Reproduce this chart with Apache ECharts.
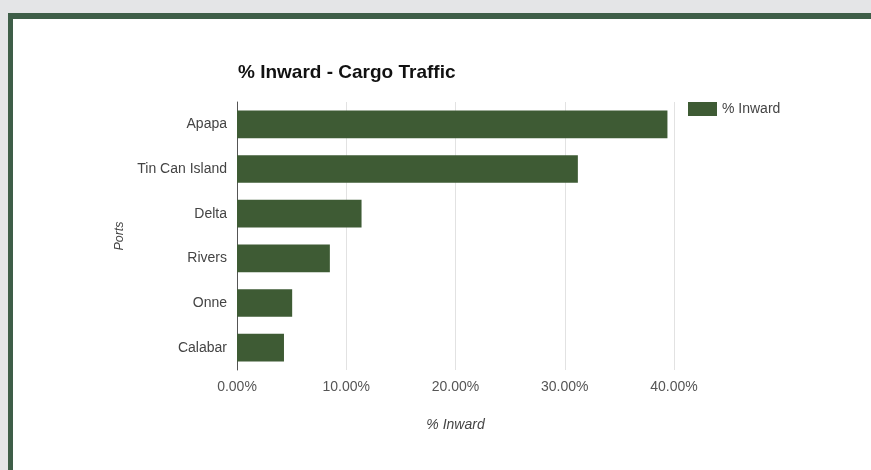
<!DOCTYPE html>
<html>
<head>
<meta charset="utf-8">
<script src="https://cdn.jsdelivr.net/npm/echarts@6/dist/echarts.min.js"></script>
<style>
html,body{margin:0;padding:0;background:#e4e5e7;}
#c{width:871px;height:470px;}
</style>
</head>
<body>
<div id="c"></div>
<script>
const categories = ["Apapa", "Tin Can Island", "Delta", "Rivers", "Onne", "Calabar"];
const inwardPct = [39.4, 31.2, 11.4, 8.5, 5.05, 4.3];
const xTicks = [0, 10, 20, 30, 40];
const seriesName = "% Inward";

const chart = echarts.init(document.getElementById('c'), null, {renderer: 'canvas'});
const font = 'Arial, "Liberation Sans", sans-serif';
chart.setOption({
  backgroundColor: '#e4e5e7',
  animation: false,
  graphic: [
    {type: 'rect', shape: {x: 8, y: 13, width: 900, height: 500}, style: {fill: '#3e5e48'}, z: -10},
    {type: 'rect', shape: {x: 13, y: 19, width: 900, height: 500}, style: {fill: '#ffffff'}, z: -9}
  ],
  title: {
    text: '% Inward - Cargo Traffic',
    left: 233, top: 58,
    textStyle: {fontFamily: font, fontSize: 19, fontWeight: 'bold', color: '#111'}
  },
  legend: {
    data: [seriesName],
    left: 683, top: 97,
    itemWidth: 29, itemHeight: 14,
    icon: 'rect',
    itemGap: 6,
    textStyle: {fontFamily: font, fontSize: 14, color: '#444'}
  },
  grid: {left: 237, right: 197, top: 102, bottom: 100, containLabel: false},
  xAxis: {
    type: 'value',
    min: xTicks[0], max: xTicks[xTicks.length - 1], interval: 10,
    name: seriesName,
    nameLocation: 'middle',
    nameGap: 48,
    nameTextStyle: {fontFamily: font, fontSize: 14, fontStyle: 'italic', color: '#444'},
    axisLine: {show: false},
    axisTick: {show: false},
    splitLine: {lineStyle: {color: '#e2e2e2', width: 1}},
    axisLabel: {
      margin: 10,
      fontFamily: font, fontSize: 14, color: '#555',
      formatter: v => v.toFixed(2) + '%'
    }
  },
  yAxis: {
    type: 'category',
    data: categories,
    inverse: true,
    name: 'Ports',
    nameLocation: 'middle',
    nameGap: 111,
    nameTextStyle: {fontFamily: font, fontSize: 12.5, fontStyle: 'italic', color: '#444'},
    axisLine: {show: true, lineStyle: {color: '#555', width: 1}},
    axisTick: {show: false},
    splitLine: {show: false},
    axisLabel: {margin: 10, fontFamily: font, fontSize: 14, color: '#444'}
  },
  series: [{
    name: seriesName,
    type: 'bar',
    data: inwardPct,
    barCategoryGap: '38%',
    itemStyle: {color: '#3e5b34'}
  }]
});
</script>
</body>
</html>
